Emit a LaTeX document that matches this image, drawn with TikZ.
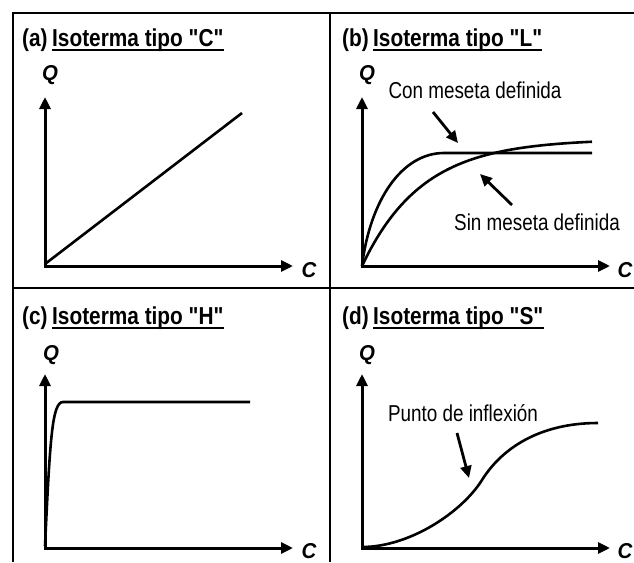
\documentclass[tikz,border=0pt]{standalone}
\usepackage{fontspec}
\setmainfont{Liberation Sans}
\newfontfamily\narrowfont[FakeStretch=0.82]{Liberation Sans}
\newfontfamily\titlefont[FakeStretch=0.85]{Liberation Sans}
\newfontfamily\labelfont[FakeStretch=0.95]{Liberation Sans}
\usetikzlibrary{arrows.meta}
\begin{document}
\begin{tikzpicture}[x=1pt,y=-1pt,
  frame/.style={line width=2.5pt},
  axes/.style={line width=3pt,line join=miter,{Triangle[length=12pt,width=11pt]}-{Triangle[length=12pt,width=11pt]}},
  curve/.style={line width=2.6pt},
  pointer/.style={line width=2.8pt,-{Triangle[length=12pt,width=11pt]}},
  ttl/.style={inner sep=0pt,anchor=base west,font=\titlefont\bfseries\fontsize{24.5}{24.5}\selectfont},
  uline/.style={line width=2.5pt},
  axlbl/.style={inner sep=0pt,font=\labelfont\bfseries\itshape\fontsize{21.5}{21.5}\selectfont},
  note/.style={inner sep=0pt,font=\narrowfont\fontsize{23}{23}\selectfont}]
\useasboundingbox (0,0) rectangle (634,562);

% frame
\draw[frame] (634,13) -- (13,13) -- (13,562);
\draw[frame] (330,13) -- (330,562);
\draw[frame] (13,288) -- (634,288);

% ---------- (a) ----------
\node[ttl] (pa) at (22,46) {(a)};
\node[ttl] (ta) at (52,46) {Isoterma tipo "C"};
\draw[uline] ([yshift=-4pt]ta.base west) -- ([yshift=-4pt]ta.base east);
\node[axlbl] (qa) at (50,75) {Q};
\node[axlbl] (ca) at (309,270) {C};
\coordinate (oa) at (45,266);
\coordinate (ya) at (45,97);
\coordinate (xa) at (293,266);
\draw[axes] (ya) -- (oa) -- (xa);
\coordinate (la) at (242,113);
\draw[curve] (45,264) -- (la);

% ---------- (b) ----------
\node[ttl] (pb) at (342,46) {(b)};
\node[ttl] (tb) at (373,46) {Isoterma tipo "L"};
\draw[uline] ([yshift=-4pt]tb.base west) -- ([yshift=-4pt]tb.base east);
\node[axlbl] (qb) at (367,75) {Q};
\node[axlbl] (cb) at (625,270) {C};
\coordinate (ob) at (362,266);
\coordinate (yb) at (362,97);
\coordinate (xb) at (610,266);
\draw[axes] (yb) -- (ob) -- (xb);
\draw[curve] (ob) .. controls (370,200) and (402,153) .. (444,153) -- (592,153);
\draw[curve] plot[domain=0:230,samples=60,smooth] ({362+\x},{266-127*(1-exp(-\x/60))});
\node[note] (con) at (475,90) {Con meseta definida};
\coordinate (conT) at (433,112);
\coordinate (conH) at (458,143);
\draw[pointer] (conT) -- (conH);
\node[note] (sin) at (537,222) {Sin meseta definida};
\coordinate (sinT) at (512,205);
\coordinate (sinH) at (480,174);
\draw[pointer] (sinT) -- (sinH);

% ---------- (c) ----------
\node[ttl] (pc) at (22,324) {(c)};
\node[ttl] (tc) at (52,324) {Isoterma tipo "H"};
\draw[uline] ([yshift=-4pt]tc.base west) -- ([yshift=-4pt]tc.base east);
\node[axlbl] (qc) at (51,355) {Q};
\node[axlbl] (cc) at (309,551) {C};
\coordinate (oc) at (45,548);
\coordinate (yc) at (45,374);
\coordinate (xc) at (293,548);
\draw[axes] (yc) -- (oc) -- (xc);
\draw[curve] (45,546) .. controls (50,440) and (52,402) .. (63,402) -- (250,402);

% ---------- (d) ----------
\node[ttl] (pd) at (342,324) {(d)};
\node[ttl] (td) at (373,324) {Isoterma tipo "S"};
\draw[uline] ([yshift=-4pt]td.base west) -- ([yshift=-4pt]td.base east);
\node[axlbl] (qd) at (367,355) {Q};
\node[axlbl] (cd) at (625,551) {C};
\coordinate (od) at (362,548);
\coordinate (yd) at (362,374);
\coordinate (xd) at (610,548);
\draw[axes] (yd) -- (od) -- (xd);
\draw[curve] (362,547) .. controls (410,547) and (462,512) .. (482,480) .. controls (502,448) and (540,423) .. (598,423);
\node[note] (pun) at (463,413) {Punto de inflexión};
\coordinate (punT) at (457,433);
\coordinate (punH) at (469,478);
\draw[pointer] (punT) -- (punH);
\end{tikzpicture}
\end{document}
